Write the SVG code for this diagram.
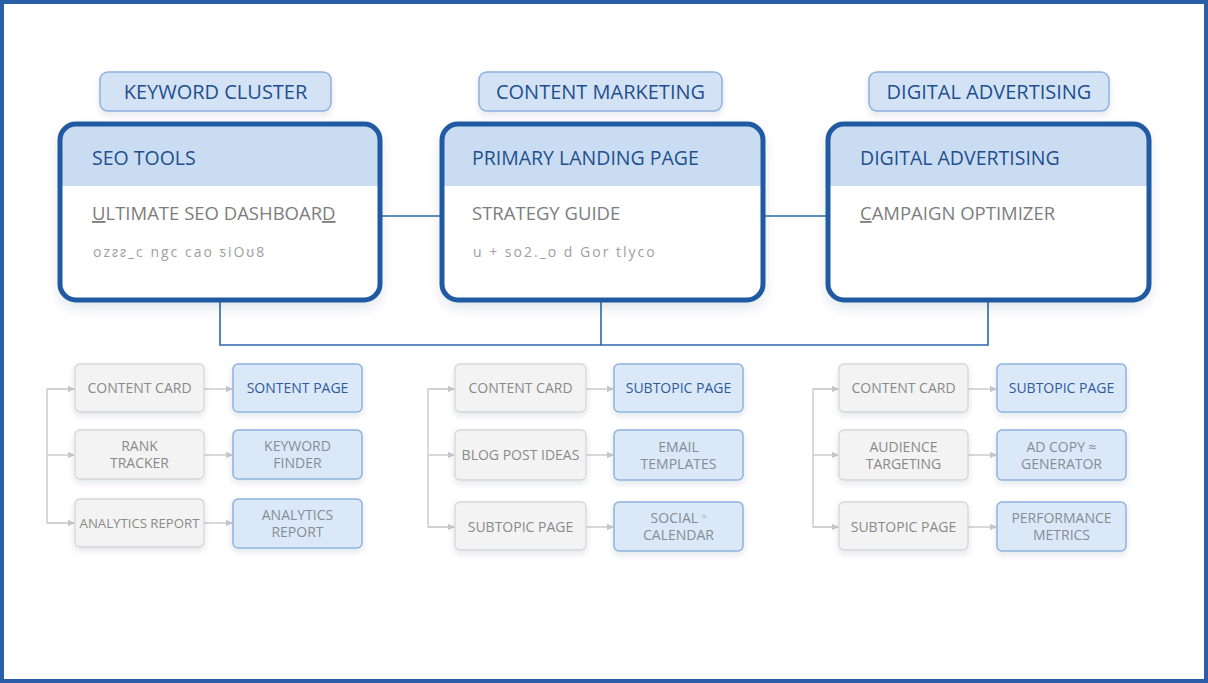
<svg xmlns="http://www.w3.org/2000/svg" width="1208" height="683" viewBox="0 0 1208 683">
<defs>
<filter id="sh" x="-20%" y="-20%" width="140%" height="150%"><feDropShadow dx="0" dy="6" stdDeviation="7" flood-color="#1e3a60" flood-opacity="0.16"/></filter>
<filter id="sh2" x="-20%" y="-20%" width="140%" height="160%"><feDropShadow dx="0" dy="3" stdDeviation="3" flood-color="#1e3a60" flood-opacity="0.12"/></filter>
<marker id="ah" viewBox="0 0 10 10" refX="9" refY="5" markerWidth="7" markerHeight="7" markerUnits="userSpaceOnUse" orient="auto"><path d="M0,0 L10,5 L0,10 z" fill="#c8c8c8"/></marker>
</defs>
<style>
text{font-family:"Open Sans","Liberation Sans",sans-serif}
.tag{fill:#d3e3f5;stroke:#8fb1dc;stroke-width:1.5}
.tagt{font-size:20px;fill:#1f4f8e;text-anchor:middle}
.main{fill:none;stroke:#1f5aa3;stroke-width:5}
.hdr{fill:#cadcf1}
.ht{font-size:19.5px;fill:#1f4f8e}
.st{font-size:18.5px;fill:#7d7d7d}
.gib{font-size:14px;fill:#a0a0a0;letter-spacing:2px}
.conn{fill:none;stroke:#2f66aa;stroke-width:1.6}
.gl{fill:none;stroke:#d0d0d0;stroke-width:1.6}
.gb{fill:#f3f3f3;stroke:#d6d6d6;stroke-width:1.3}
.bb{fill:#dbe8f7;stroke:#8fb2de;stroke-width:1.5}
.gt{font-size:14px;fill:#8a8a8a;text-anchor:middle}
.bt{font-size:14px;fill:#868d96;text-anchor:middle}
.bt1{font-size:14px;fill:#2d5c9c;text-anchor:middle}
</style>
<rect x="0" y="0" width="1208" height="683" fill="#ffffff"/>
<rect x="2" y="2" width="1204" height="679" fill="none" stroke="#2a5fa8" stroke-width="4"/>

<g id="connectors">
<line class="conn" x1="380" y1="216" x2="442" y2="216"/>
<line class="conn" x1="763" y1="216" x2="828" y2="216"/>
<polyline class="conn" points="220,300 220,345 988,345 988,300"/>
<line class="conn" x1="601" y1="300" x2="601" y2="345"/>
<g>
<polyline class="gl" points="75,389 47,389 47,523 75,523"/>
<line class="gl" x1="47" y1="389" x2="74" y2="389" marker-end="url(#ah)"/>
<line class="gl" x1="47" y1="455" x2="74" y2="455" marker-end="url(#ah)"/>
<line class="gl" x1="47" y1="523" x2="74" y2="523" marker-end="url(#ah)"/>
<line class="gl" x1="204" y1="389" x2="232" y2="389" marker-end="url(#ah)"/>
<line class="gl" x1="204" y1="455" x2="232" y2="455" marker-end="url(#ah)"/>
<line class="gl" x1="204" y1="523" x2="232" y2="523" marker-end="url(#ah)"/>
</g>
<g>
<polyline class="gl" points="455,389 428,389 428,527 455,527"/>
<line class="gl" x1="428" y1="389" x2="454" y2="389" marker-end="url(#ah)"/>
<line class="gl" x1="428" y1="455" x2="454" y2="455" marker-end="url(#ah)"/>
<line class="gl" x1="428" y1="527" x2="454" y2="527" marker-end="url(#ah)"/>
<line class="gl" x1="586" y1="389" x2="613" y2="389" marker-end="url(#ah)"/>
<line class="gl" x1="586" y1="455" x2="613" y2="455" marker-end="url(#ah)"/>
<line class="gl" x1="586" y1="527" x2="613" y2="527" marker-end="url(#ah)"/>
</g>
<g>
<polyline class="gl" points="839,389 813,389 813,527 839,527"/>
<line class="gl" x1="813" y1="389" x2="838" y2="389" marker-end="url(#ah)"/>
<line class="gl" x1="813" y1="455" x2="838" y2="455" marker-end="url(#ah)"/>
<line class="gl" x1="813" y1="527" x2="838" y2="527" marker-end="url(#ah)"/>
<line class="gl" x1="968" y1="389" x2="996" y2="389" marker-end="url(#ah)"/>
<line class="gl" x1="968" y1="455" x2="996" y2="455" marker-end="url(#ah)"/>
<line class="gl" x1="968" y1="527" x2="996" y2="527" marker-end="url(#ah)"/>
</g>
</g>

<g id="tag-keyword-cluster"><rect class="tag" x="100" y="72" width="231" height="39" rx="8" filter="url(#sh2)"/><text class="tagt" x="215.5" y="99">KEYWORD CLUSTER</text></g>
<g id="tag-content-marketing"><rect class="tag" x="479" y="72" width="243" height="39" rx="8" filter="url(#sh2)"/><text class="tagt" x="600.5" y="99">CONTENT MARKETING</text></g>
<g id="tag-digital-advertising"><rect class="tag" x="869" y="72" width="240" height="39" rx="8" filter="url(#sh2)"/><text class="tagt" x="989" y="99">DIGITAL ADVERTISING</text></g>

<g id="card-seo-tools">
<rect x="60" y="124" width="320" height="176" rx="16" fill="#fff" filter="url(#sh)"/>
<path class="hdr" d="M60,140 a16,16 0 0 1 16,-16 h288 a16,16 0 0 1 16,16 v46 h-320 z"/>
<rect class="main" x="60" y="124" width="320" height="176" rx="16"/>
<text class="ht" x="92" y="165">SEO TOOLS</text>
<text class="st" x="92" y="220"><tspan text-decoration="underline">U</tspan>LTIMATE SEO DASHBOAR<tspan text-decoration="underline">D</tspan></text>
<text class="gib" x="93" y="257">ozᴤᴤ_c  ngc  cao ƽiOʊ8</text>
</g>
<g id="card-primary-landing">
<rect x="442" y="124" width="321" height="176" rx="16" fill="#fff" filter="url(#sh)"/>
<path class="hdr" d="M442,140 a16,16 0 0 1 16,-16 h289 a16,16 0 0 1 16,16 v46 h-321 z"/>
<rect class="main" x="442" y="124" width="321" height="176" rx="16"/>
<text class="ht" x="472" y="165">PRIMARY LANDING PAGE</text>
<text class="st" x="472" y="220">STRATEGY GUIDE</text>
<text class="gib" x="473" y="257">u + so2._o d Gor tlyco</text>
</g>
<g id="card-digital-advertising">
<rect x="828" y="124" width="321" height="176" rx="16" fill="#fff" filter="url(#sh)"/>
<path class="hdr" d="M828,140 a16,16 0 0 1 16,-16 h289 a16,16 0 0 1 16,16 v46 h-321 z"/>
<rect class="main" x="828" y="124" width="321" height="176" rx="16"/>
<text class="ht" x="860" y="165">DIGITAL ADVERTISING</text>
<text class="st" x="860" y="220"><tspan text-decoration="underline">C</tspan>AMPAIGN OPTIMIZER</text>
</g>

<g id="g1-content-card"><rect class="gb" x="75" y="364" width="129" height="48" rx="5" filter="url(#sh2)"/><text class="gt" x="139.5" y="393">CONTENT CARD</text></g>
<g id="g1-sontent-page"><rect class="bb" x="233" y="364" width="129" height="48" rx="5" filter="url(#sh2)"/><text class="bt1" x="297.5" y="393">SONTENT PAGE</text></g>
<g id="g1-rank-tracker"><rect class="gb" x="75" y="430" width="129" height="49" rx="5" filter="url(#sh2)"/><text class="gt" x="139.5" y="451">RANK</text><text class="gt" x="139.5" y="468">TRACKER</text></g>
<g id="g1-keyword-finder"><rect class="bb" x="233" y="430" width="129" height="49" rx="5" filter="url(#sh2)"/><text class="bt" x="297.5" y="451">KEYWORD</text><text class="bt" x="297.5" y="468">FINDER</text></g>
<g id="g1-analytics-report"><rect class="gb" x="75" y="499" width="129" height="48" rx="5" filter="url(#sh2)"/><text class="gt" x="139.5" y="528" style="font-size:13.2px">ANALYTICS REPORT</text></g>
<g id="g1-analytics-report-2"><rect class="bb" x="233" y="499" width="129" height="49" rx="5" filter="url(#sh2)"/><text class="bt" x="297.5" y="520">ANALYTICS</text><text class="bt" x="297.5" y="537">REPORT</text></g>

<g id="g2-content-card"><rect class="gb" x="455" y="364" width="131" height="48" rx="5" filter="url(#sh2)"/><text class="gt" x="520.5" y="393">CONTENT CARD</text></g>
<g id="g2-subtopic-page"><rect class="bb" x="614" y="364" width="129" height="48" rx="5" filter="url(#sh2)"/><text class="bt1" x="678.5" y="393">SUBTOPIC PAGE</text></g>
<g id="g2-blog-post-ideas"><rect class="gb" x="455" y="430" width="131" height="50" rx="5" filter="url(#sh2)"/><text class="gt" x="520.5" y="460">BLOG POST IDEAS</text></g>
<g id="g2-email-templates"><rect class="bb" x="614" y="430" width="129" height="50" rx="5" filter="url(#sh2)"/><text class="bt" x="678.5" y="452">EMAIL</text><text class="bt" x="678.5" y="469">TEMPLATES</text></g>
<g id="g2-subtopic-page-2"><rect class="gb" x="455" y="502" width="131" height="48" rx="5" filter="url(#sh2)"/><text class="gt" x="520.5" y="532">SUBTOPIC PAGE</text></g>
<g id="g2-social-calendar"><rect class="bb" x="614" y="502" width="129" height="49" rx="5" filter="url(#sh2)"/><text class="bt" x="678.5" y="523">SOCIAL ⁼</text><text class="bt" x="678.5" y="540">CALENDAR</text></g>

<g id="g3-content-card"><rect class="gb" x="839" y="364" width="129" height="48" rx="5" filter="url(#sh2)"/><text class="gt" x="903.5" y="393">CONTENT CARD</text></g>
<g id="g3-subtopic-page"><rect class="bb" x="997" y="364" width="129" height="48" rx="5" filter="url(#sh2)"/><text class="bt1" x="1061.5" y="393">SUBTOPIC PAGE</text></g>
<g id="g3-audience-targeting"><rect class="gb" x="839" y="430" width="129" height="50" rx="5" filter="url(#sh2)"/><text class="gt" x="903.5" y="452">AUDIENCE</text><text class="gt" x="903.5" y="469">TARGETING</text></g>
<g id="g3-ad-copy-generator"><rect class="bb" x="997" y="430" width="129" height="50" rx="5" filter="url(#sh2)"/><text class="bt" x="1061.5" y="452">AD COPY ≈</text><text class="bt" x="1061.5" y="469">GENERATOR</text></g>
<g id="g3-subtopic-page-2"><rect class="gb" x="839" y="502" width="129" height="48" rx="5" filter="url(#sh2)"/><text class="gt" x="903.5" y="532">SUBTOPIC PAGE</text></g>
<g id="g3-performance-metrics"><rect class="bb" x="997" y="502" width="129" height="49" rx="5" filter="url(#sh2)"/><text class="bt" x="1061.5" y="523">PERFORMANCE</text><text class="bt" x="1061.5" y="540">METRICS</text></g>
</svg>
